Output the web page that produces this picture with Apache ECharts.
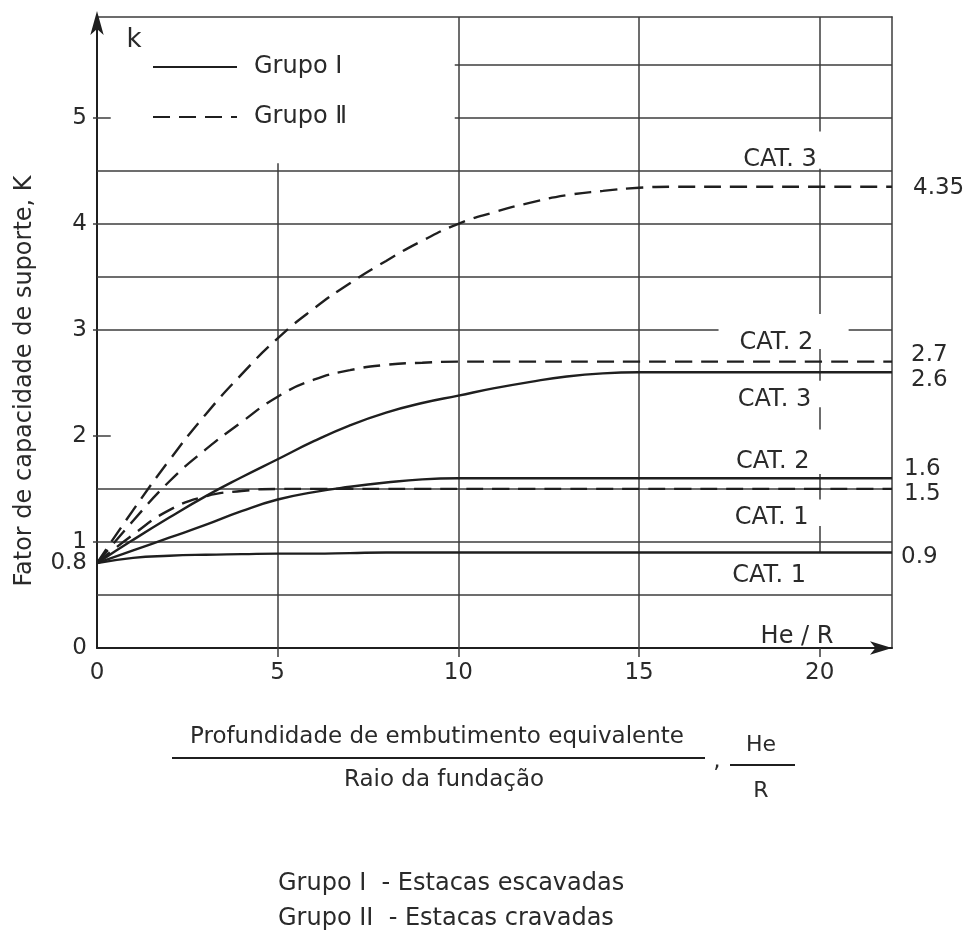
<!DOCTYPE html>
<html>
<head>
<meta charset="utf-8">
<title>Fator de capacidade de suporte K</title>
<script src="https://cdn.jsdelivr.net/npm/echarts@6/dist/echarts.min.js"></script>
<style>
  html, body { margin: 0; padding: 0; background: #fff; }
  #chart { width: 972px; height: 932px; }
</style>
</head>
<body>
<div id="chart"></div>
<script>
// He/R values at which the curves are sampled
const heR = [0, 1, 2, 3, 4, 5, 6, 7, 8, 9, 10, 11, 12, 13, 14, 15, 16, 18, 20, 22];

// Grupo I (estacas escavadas) - solid curves
const grupo1Cat1 = [0.8, 0.85, 0.87, 0.88, 0.885, 0.89, 0.89, 0.895, 0.9, 0.9, 0.9, 0.9, 0.9, 0.9, 0.9, 0.9, 0.9, 0.9, 0.9, 0.9];
const grupo1Cat2 = [0.8, 0.92, 1.04, 1.16, 1.29, 1.4, 1.47, 1.52, 1.56, 1.59, 1.6, 1.6, 1.6, 1.6, 1.6, 1.6, 1.6, 1.6, 1.6, 1.6];
const grupo1Cat3 = [0.8, 1.02, 1.23, 1.43, 1.61, 1.78, 1.95, 2.1, 2.22, 2.31, 2.38, 2.45, 2.51, 2.56, 2.59, 2.6, 2.6, 2.6, 2.6, 2.6];

// Grupo II (estacas cravadas) - dashed curves
const grupo2Cat1 = [0.8, 1.07, 1.3, 1.43, 1.48, 1.5, 1.5, 1.5, 1.5, 1.5, 1.5, 1.5, 1.5, 1.5, 1.5, 1.5, 1.5, 1.5, 1.5, 1.5];
const grupo2Cat2 = [0.8, 1.2, 1.57, 1.87, 2.13, 2.37, 2.53, 2.62, 2.67, 2.69, 2.7, 2.7, 2.7, 2.7, 2.7, 2.7, 2.7, 2.7, 2.7, 2.7];
const grupo2Cat3 = [0.8, 1.3, 1.77, 2.2, 2.58, 2.92, 3.2, 3.44, 3.65, 3.84, 4.0, 4.11, 4.2, 4.27, 4.31, 4.34, 4.35, 4.35, 4.35, 4.35];

// Axis ticks and labels
const xTickLabels = [0, 5, 10, 15, 20];
const xTicks = [5, 10, 15, 20];
const yTickLabels = [0, 0.8, 1, 2, 3, 4, 5];
const yTicks = [1, 2, 3, 4, 5];

// Category names written inside the chart
const catNames = ['CAT. 3', 'CAT. 2', 'CAT. 3', 'CAT. 2', 'CAT. 1', 'CAT. 1'];

// ---------------------------------------------------------------------------
const X_MAX = 22;
const Y_MAX = 5.95;
const FONT = 'DejaVu Sans';
const INK = '#1f1f1f';
const GRID = '#3c3c3c';
const TEXT = '#2a2a2a';

// where each category name sits, in chart units
const catAnchors = [[18.9, 4.6], [18.8, 2.88], [18.75, 2.34], [18.7, 1.76], [18.67, 1.23], [18.6, 0.68]];

// grid drawing: horizontal lines, partial lines and the broken vertical at 20
const hFull = [0.5, 1, 1.5, 3.5, 4, 4.5];
const gridSegments = [];
hFull.forEach(v => gridSegments.push({ coords: [[0, v], [X_MAX, v]] }));
gridSegments.push({ coords: [[0, 3], [17.2, 3]] });
gridSegments.push({ coords: [[20.8, 3], [X_MAX, 3]] });
[5, 5.5].forEach(v => gridSegments.push({ coords: [[9.9, v], [X_MAX, v]] }));
gridSegments.push({ coords: [[5, 0], [5, 4.57]] });
[10, 15].forEach(v => gridSegments.push({ coords: [[v, 0], [v, Y_MAX]] }));
[[4.87, Y_MAX], [3.15, 4.52], [2.52, 2.82], [2.06, 2.27], [1.4, 1.64], [0.9, 1.15]]
  .forEach(s => gridSegments.push({ coords: [[20, s[0]], [20, s[1]]] }));
[2, 5].forEach(v => gridSegments.push({ coords: [[0, v], [0.38, v]] }));

function pairs(ys) { return heR.map((x, i) => [x, ys[i]]); }

function curve(name, ys, dashed, offset) {
  return {
    name: name,
    type: 'line',
    data: pairs(ys),
    smooth: 0.5,
    symbol: 'none',
    showSymbol: false,
    silent: true,
    z: 5,
    lineStyle: { color: INK, width: 2.4, type: dashed ? [17, 9] : 'solid' },
    itemStyle: { color: INK },
    endLabel: {
      show: true,
      formatter: p => String(p.value[1]),
      distance: 0,
      offset: offset,
      align: 'left',
      verticalAlign: 'middle',
      fontFamily: FONT,
      fontSize: 23,
      color: TEXT
    }
  };
}

const chart = echarts.init(document.getElementById('chart'), null, { renderer: 'canvas' });

const option = {
  animation: false,
  backgroundColor: '#ffffff',
  grid: { left: 97, right: 80, top: 17, bottom: 284 },
  legend: {
    data: ['Grupo Ⅰ', 'Grupo Ⅱ'],
    orient: 'vertical',
    left: 147,
    top: 50,
    itemWidth: 84,
    itemHeight: 24,
    itemGap: 26,
    selectedMode: false,
    itemStyle: { opacity: 0 },
    textStyle: { fontFamily: FONT, fontSize: 24, color: TEXT, padding: [0, 0, 0, 12] }
  },
  xAxis: [
    {
      type: 'value', min: 0, max: X_MAX,
      axisLine: {
        show: true, onZero: false,
        lineStyle: { color: INK, width: 2 },
        symbol: ['none', 'arrow'], symbolSize: [10, 22], symbolOffset: [0, 0]
      },
      axisTick: { show: true, customValues: xTicks, length: 9, lineStyle: { color: GRID, width: 1.5 } },
      axisLabel: { customValues: xTickLabels, margin: 14, fontFamily: FONT, fontSize: 23, color: TEXT },
      splitLine: { show: false }
    },
    {
      type: 'value', min: 0, max: X_MAX, position: 'top',
      axisLine: { show: true, onZero: false, lineStyle: { color: GRID, width: 1.5 } },
      axisTick: { show: false }, axisLabel: { show: false }, splitLine: { show: false }
    }
  ],
  yAxis: [
    {
      type: 'value', min: 0, max: Y_MAX,
      axisLine: {
        show: true, onZero: false,
        lineStyle: { color: INK, width: 2 },
        symbol: ['none', 'arrow'], symbolSize: [10, 24], symbolOffset: [0, 6]
      },
      axisTick: { show: true, customValues: yTicks, length: 4, lineStyle: { color: GRID, width: 1.5 } },
      axisLabel: { customValues: yTickLabels, margin: 10, fontFamily: FONT, fontSize: 23, color: TEXT },
      splitLine: { show: false }
    },
    {
      type: 'value', min: 0, max: Y_MAX, position: 'right',
      axisLine: { show: true, onZero: false, lineStyle: { color: GRID, width: 1.5 } },
      axisTick: { show: false }, axisLabel: { show: false }, splitLine: { show: false }
    }
  ],
  series: [
    {
      name: 'grade',
      type: 'lines',
      coordinateSystem: 'cartesian2d',
      silent: true,
      z: 1,
      lineStyle: { color: GRID, width: 1.5, opacity: 1, curveness: 0 },
      data: gridSegments
    },
    curve('Grupo Ⅰ', grupo1Cat1, false, [9, 4]),
    curve('Grupo Ⅰ', grupo1Cat2, false, [12, -9]),
    curve('Grupo Ⅰ', grupo1Cat3, false, [19, 8]),
    curve('Grupo Ⅱ', grupo2Cat1, true, [12, 5]),
    curve('Grupo Ⅱ', grupo2Cat2, true, [19, -7]),
    curve('Grupo Ⅱ', grupo2Cat3, true, [21, 1]),
    {
      name: 'categorias',
      type: 'scatter',
      silent: true,
      z: 6,
      symbol: 'circle',
      symbolSize: 1,
      itemStyle: { color: 'rgba(255,255,255,0)', opacity: 1 },
      data: catAnchors.map((c, i) => ({ value: c, name: catNames[i] })),
      label: {
        show: true,
        position: 'inside',
        formatter: p => p.name,
        fontFamily: FONT,
        fontSize: 24,
        color: TEXT,
        opacity: 1
      }
    }
  ],
  graphic: [
    // axis letters
    { type: 'text', x: 134, y: 40, style: { text: 'k', font: '26px "DejaVu Sans"', fill: TEXT, align: 'center', verticalAlign: 'middle' } },
    { type: 'text', x: 797, y: 637, style: { text: 'He / R', font: '24px "DejaVu Sans"', fill: TEXT, align: 'center', verticalAlign: 'middle' } },
    // vertical axis title
    { type: 'text', x: 25, y: 381, rotation: Math.PI / 2,
      style: { text: 'Fator de capacidade de suporte, K', font: '24px "DejaVu Sans"', fill: TEXT, align: 'center', verticalAlign: 'middle' } },
    // horizontal axis title written as a fraction
    { type: 'text', x: 437, y: 737, style: { text: 'Profundidade de embutimento equivalente', font: '23px "DejaVu Sans"', fill: TEXT, align: 'center', verticalAlign: 'middle' } },
    { type: 'line', shape: { x1: 172, y1: 758, x2: 705, y2: 758 }, style: { stroke: INK, lineWidth: 2 } },
    { type: 'text', x: 444, y: 780, style: { text: 'Raio da fundação', font: '23px "DejaVu Sans"', fill: TEXT, align: 'center', verticalAlign: 'middle' } },
    { type: 'text', x: 717, y: 761, style: { text: ',', font: '23px "DejaVu Sans"', fill: TEXT, align: 'center', verticalAlign: 'middle' } },
    { type: 'text', x: 761, y: 745, style: { text: 'He', font: '22px "DejaVu Sans"', fill: TEXT, align: 'center', verticalAlign: 'middle' } },
    { type: 'line', shape: { x1: 730, y1: 765, x2: 795, y2: 765 }, style: { stroke: INK, lineWidth: 2 } },
    { type: 'text', x: 761, y: 791, style: { text: 'R', font: '22px "DejaVu Sans"', fill: TEXT, align: 'center', verticalAlign: 'middle' } },
    // key to the two groups
    { type: 'text', x: 278, y: 884, style: { text: 'Grupo Ⅰ  - Estacas escavadas', font: '24px "DejaVu Sans"', fill: TEXT, align: 'left', verticalAlign: 'middle' } },
    { type: 'text', x: 278, y: 919, style: { text: 'Grupo II  - Estacas cravadas', font: '24px "DejaVu Sans"', fill: TEXT, align: 'left', verticalAlign: 'middle' } }
  ]
};

chart.setOption(option);
</script>
</body>
</html>
